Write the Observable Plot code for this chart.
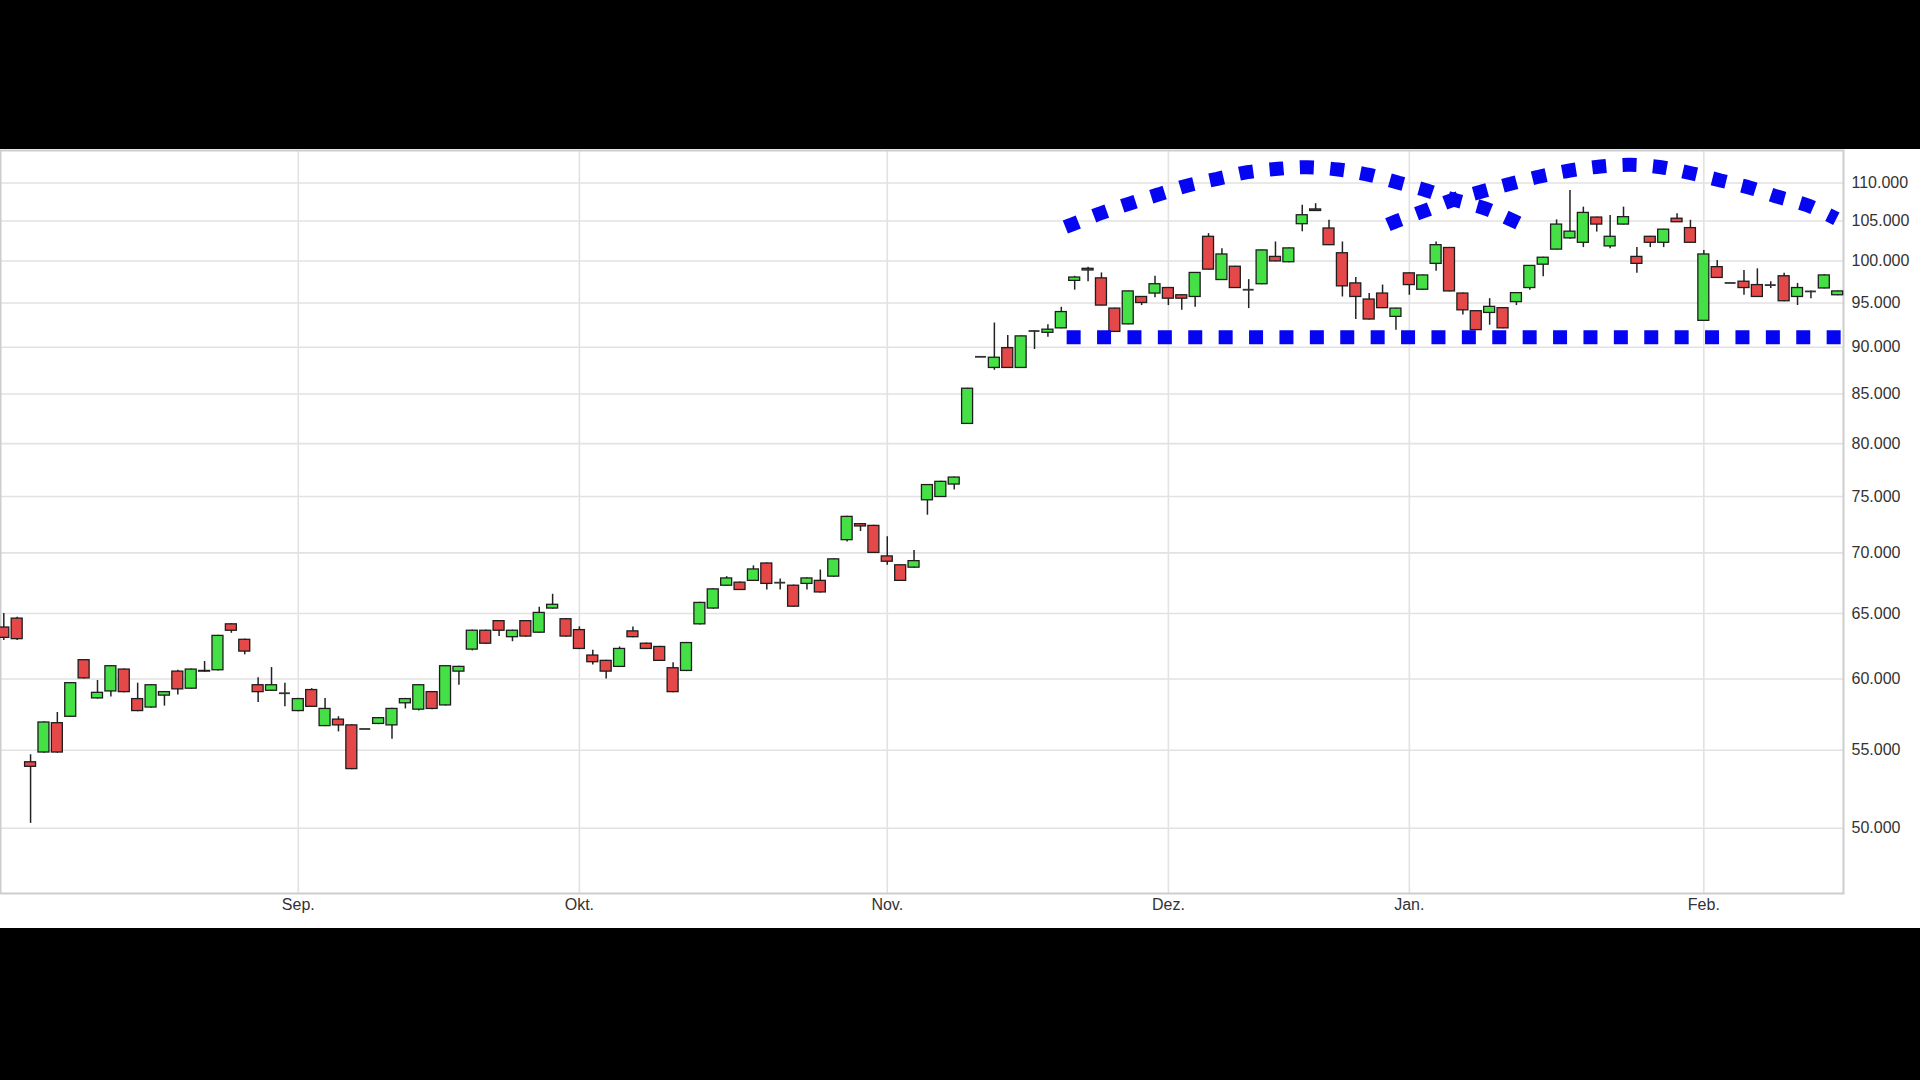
<!DOCTYPE html>
<html>
<head>
<meta charset="utf-8">
<script src="https://cdn.jsdelivr.net/npm/d3@7"></script>
<script src="https://cdn.jsdelivr.net/npm/@observablehq/plot@0.6"></script>
<style>
html, body { margin: 0; padding: 0; background: #000; width: 1920px; height: 1080px; overflow: hidden; }
#top { height: 149px; background: #000; }
#chart { width: 1920px; height: 779px; background: #fff; }
#chart svg { display: block; }
</style>
</head>
<body>
<div id="top"></div>
<div id="chart"></div>
<script>
// Daily candles (index 0..137)
const open = [
63900,64600,54200,54850,56850,57300,61400,58600,59100,60700,
58550,57950,58800,60550,59300,60550,60650,64150,62950,59550,
59150,58970,57700,59200,56650,57100,56700,56450,56800,56700,
58250,57800,59050,58100,60550,62200,63650,64400,63150,64400,
63500,65400,64550,63700,61750,61350,60900,63600,62650,62400,
60800,60600,64150,65400,67250,67500,67650,69100,67500,67250,
67400,67650,68000,71100,72500,72350,69700,68950,68750,74650,
74950,76100,81950,88950,87750,89900,87750,91800,91600,92100,
97600,99050,97900,94350,92550,95700,96100,96750,95900,95700,
103000,97700,99300,96550,97200,100500,99850,104600,106500,104050,
100950,97300,95400,96100,93400,98500,96550,99650,101600,96100,
94050,93850,94400,95100,96750,99550,101400,102800,102250,105450,
101800,104550,100500,103000,102250,105300,104100,92950,99250,97350,
97500,97100,97100,98150,95700,96350,96700,95900];

const close = [
63100,63000,53900,56900,54850,59700,60050,59000,60950,59050,
57700,59550,59050,59250,60700,60600,63250,63650,62050,59050,
59550,58970,58550,58000,57850,56700,53750,56450,57200,57850,
58550,59550,57850,60950,60900,63650,62650,63650,63650,63200,
65050,65700,63200,62250,61250,60550,62250,63150,62250,61350,
59050,62700,65850,66950,67850,66900,68600,67400,67500,65550,
67850,66700,69450,73150,72300,70000,69250,67650,69300,76050,
76350,76750,85550,88950,88850,87750,91200,91800,91950,93950,
98000,98850,94700,91700,96350,95000,97200,95500,95500,98550,
98950,100800,96750,96550,101300,99950,101550,105750,106300,101950,
96950,95700,93100,94400,94350,97100,98250,101950,96350,94150,
91900,94550,92100,96150,99400,100400,104550,103650,106050,104550,
103000,105500,99650,102250,103900,104850,102250,100800,97950,97350,
96750,95700,97100,95200,96750,96350,98250,96350];

const high = [
65000,64700,54700,56950,57600,59750,61450,59900,61000,60750,
59700,59600,59100,60650,60750,61300,63300,64200,63000,60100,
60850,59700,58600,59300,58600,57300,56750,56450,57250,57900,
58600,59600,59100,61000,60950,63700,63700,64450,63700,64450,
65500,66550,64600,63950,62150,61400,62400,63950,62700,62450,
61200,62750,65900,67000,68000,67550,68900,69150,67800,67300,
67900,68550,69500,73200,72550,72400,71400,69000,70200,76100,
76400,76800,85600,88950,92700,91300,91250,91850,92500,94500,
98150,99250,98550,94400,96400,95750,98150,96800,95950,98600,
103400,101500,99350,97750,101350,102350,101600,107050,107250,105100,
102350,98000,96100,97100,94400,98550,98300,102350,101650,96150,
94100,95500,94450,96200,99450,100450,105150,109000,106800,105500,
105700,106800,101650,103050,103950,105950,105100,101300,100050,97350,
98850,99050,97500,98500,97300,96400,98350,96400];

const low = [
62900,62900,50300,54800,54800,57250,60000,58550,58700,59000,
57650,57900,58050,58850,59250,60500,60600,63450,61800,58300,
59100,58000,57650,57950,56600,56250,53700,56450,56750,55750,
57850,57700,57800,58050,59550,62100,62600,63200,62800,63150,
63450,65350,63150,62200,61050,60000,60850,63100,62200,61300,
59000,60550,64100,65350,67200,66850,67600,66900,66900,65500,
66900,66650,67950,70950,71850,69950,68950,67600,68700,73300,
74900,75600,81900,88950,87500,87700,87700,89750,91100,92050,
96500,97500,94650,91650,92500,94700,95600,94700,94150,94500,
98900,97650,96700,94350,97150,99900,99800,103650,106250,101900,
95700,93100,93050,94350,91900,95900,96500,98750,96300,93600,
91850,92450,92050,94700,96500,98100,101350,102700,101650,103600,
101500,104500,98500,101650,101650,104800,102200,92900,97900,97350,
95900,95650,96700,95150,94700,95500,96650,95850];

// Axis ticks
const monthTicks = [22, 43, 66, 87, 105, 127];
const monthLabels = ["Sep.", "Okt.", "Nov.", "Dez.", "Jan.", "Feb."];
const yTicks = [50000, 55000, 60000, 65000, 70000, 75000, 80000, 85000, 90000, 95000, 100000, 105000, 110000];

// Hand-drawn blue annotations (candle index, price)
const arc1X = [79.3, 79.8, 82.0, 84.1, 86.3, 88.45, 90.65, 92.9, 95.2, 97.4, 99.7, 102.0, 104.2, 106.3, 108.3, 110.7, 113.2];
const arc1Y = [104230, 104570, 106040, 107270, 108490, 109670, 110560, 111460, 111920, 112140, 111820, 111100, 110030, 109000, 107790, 106610, 104700];
const arc2X = [103.4, 103.84, 106.04, 108.32, 110.47, 112.56, 114.75, 116.99, 119.28, 121.52, 123.82, 126.06, 128.25, 130.44, 132.6, 134.73, 136.9];
const arc2Y = [104550, 104860, 106260, 107790, 108900, 109890, 110880, 111690, 112240, 112470, 112140, 111320, 110340, 109360, 108130, 107040, 105300];
const supportX = [79.4, 137.6];
const supportY = [91100, 91100];

const candles = open.map((o, i) => ({i, o, h: high[i], l: low[i], c: close[i]}));
const up = candles.filter(d => d.c > d.o);
const down = candles.filter(d => d.c < d.o);
const flat = candles.filter(d => d.c === d.o);
const HW = 0.41;
const blue = "#0505f2";
const fmt = d => d3.format(",")(d).replace(/,/g, ".");
const dash = {stroke: blue, strokeWidth: 14, strokeDasharray: "14,16.4", strokeLinecap: "butt", strokeLinejoin: "miter", clip: true};

const chart = Plot.plot({
  width: 1920,
  height: 779,
  marginLeft: 0,
  marginRight: 77,
  marginTop: 1,
  marginBottom: 35,
  style: {background: "#fff", fontFamily: "'Liberation Sans', Arial, sans-serif", fontSize: "16px", color: "#333"},
  x: {type: "linear", domain: [-0.2465, 137.434], axis: null, label: null},
  y: {type: "log", domain: [46171, 114454], axis: null, label: null},
  marks: [
    Plot.gridY(yTicks, {stroke: "#e2e2e2", strokeOpacity: 1, strokeWidth: 1.6}),
    Plot.gridX(monthTicks, {stroke: "#e2e2e2", strokeOpacity: 1, strokeWidth: 1.6}),
    Plot.frame({stroke: "#cdcdcd", strokeWidth: 2}),
    Plot.axisY(yTicks, {anchor: "right", label: null, tickSize: 0, tickPadding: 8, tickFormat: fmt, fill: "#333", fontSize: 16}),
    Plot.axisX(monthTicks, {anchor: "bottom", label: null, tickSize: 0, tickPadding: 5, tickFormat: d => monthLabels[monthTicks.indexOf(d)], fill: "#333", fontSize: 16}),
    Plot.ruleX(candles, {x: "i", y1: "l", y2: "h", stroke: "#222", strokeWidth: 1.5}),
    Plot.rect(up, {x1: d => d.i - HW, x2: d => d.i + HW, y1: "o", y2: "c", fill: "#45e045", stroke: "#1e1e1e", strokeWidth: 1.3}),
    Plot.rect(down, {x1: d => d.i - HW, x2: d => d.i + HW, y1: "o", y2: "c", fill: "#e44848", stroke: "#1e1e1e", strokeWidth: 1.3}),
    Plot.ruleY(flat, {y: "c", x1: d => d.i - HW, x2: d => d.i + HW, stroke: "#333", strokeWidth: 1.8}),
    Plot.line(supportX.map((x, k) => [x, supportY[k]]), dash),
    Plot.line(arc1X.map((x, k) => [x, arc1Y[k]]), {...dash, curve: "catmull-rom"}),
    Plot.line(arc2X.map((x, k) => [x, arc2Y[k]]), {...dash, curve: "catmull-rom"})
  ]
});
document.getElementById("chart").appendChild(chart);
</script>
</body>
</html>
